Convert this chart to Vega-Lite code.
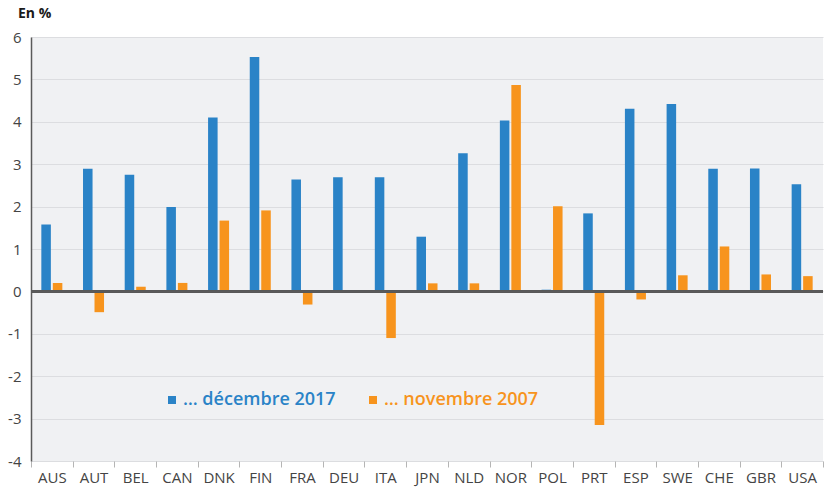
{
  "$schema": "https://vega.github.io/schema/vega-lite/v6.json",
  "width": 792,
  "height": 424,
  "autosize": {"type": "none"},
  "padding": {"left": 31, "top": 37, "right": 4, "bottom": 28},
  "background": "white",
  "title": {"text": "En %", "anchor": "start", "frame": "group", "dx": -13, "offset": 9, "font": "Open Sans", "fontSize": 14, "fontWeight": "bold", "color": "#1a1a1a"},
  "config": {
    "view": {"fill": "#f0f1f3", "stroke": null},
    "font": "Open Sans"
  },
  "data": {"values": [
    {"pays": "AUS", "serie": "… décembre 2017", "valeur": 1.58},
    {"pays": "AUS", "serie": "… novembre 2007", "valeur": 0.2},
    {"pays": "AUT", "serie": "… décembre 2017", "valeur": 2.89},
    {"pays": "AUT", "serie": "… novembre 2007", "valeur": -0.49},
    {"pays": "BEL", "serie": "… décembre 2017", "valeur": 2.75},
    {"pays": "BEL", "serie": "… novembre 2007", "valeur": 0.11},
    {"pays": "CAN", "serie": "… décembre 2017", "valeur": 1.99},
    {"pays": "CAN", "serie": "… novembre 2007", "valeur": 0.2},
    {"pays": "DNK", "serie": "… décembre 2017", "valeur": 4.1},
    {"pays": "DNK", "serie": "… novembre 2007", "valeur": 1.67},
    {"pays": "FIN", "serie": "… décembre 2017", "valeur": 5.53},
    {"pays": "FIN", "serie": "… novembre 2007", "valeur": 1.91},
    {"pays": "FRA", "serie": "… décembre 2017", "valeur": 2.64},
    {"pays": "FRA", "serie": "… novembre 2007", "valeur": -0.31},
    {"pays": "DEU", "serie": "… décembre 2017", "valeur": 2.69},
    {"pays": "ITA", "serie": "… décembre 2017", "valeur": 2.69},
    {"pays": "ITA", "serie": "… novembre 2007", "valeur": -1.1},
    {"pays": "JPN", "serie": "… décembre 2017", "valeur": 1.29},
    {"pays": "JPN", "serie": "… novembre 2007", "valeur": 0.19},
    {"pays": "NLD", "serie": "… décembre 2017", "valeur": 3.26},
    {"pays": "NLD", "serie": "… novembre 2007", "valeur": 0.19},
    {"pays": "NOR", "serie": "… décembre 2017", "valeur": 4.03},
    {"pays": "NOR", "serie": "… novembre 2007", "valeur": 4.87},
    {"pays": "POL", "serie": "… décembre 2017", "valeur": 0.04},
    {"pays": "POL", "serie": "… novembre 2007", "valeur": 2.01},
    {"pays": "PRT", "serie": "… décembre 2017", "valeur": 1.84},
    {"pays": "PRT", "serie": "… novembre 2007", "valeur": -3.15},
    {"pays": "ESP", "serie": "… décembre 2017", "valeur": 4.31},
    {"pays": "ESP", "serie": "… novembre 2007", "valeur": -0.19},
    {"pays": "SWE", "serie": "… décembre 2017", "valeur": 4.42},
    {"pays": "SWE", "serie": "… novembre 2007", "valeur": 0.38},
    {"pays": "CHE", "serie": "… décembre 2017", "valeur": 2.89},
    {"pays": "CHE", "serie": "… novembre 2007", "valeur": 1.06},
    {"pays": "GBR", "serie": "… décembre 2017", "valeur": 2.9},
    {"pays": "GBR", "serie": "… novembre 2007", "valeur": 0.4},
    {"pays": "USA", "serie": "… décembre 2017", "valeur": 2.53},
    {"pays": "USA", "serie": "… novembre 2007", "valeur": 0.36}
  ]},
  "layer": [
    {
      "mark": {"type": "bar"},
      "encoding": {
        "x": {
          "field": "pays", "type": "nominal", "sort": null,
          "scale": {"paddingInner": 0, "paddingOuter": 0},
          "axis": {"title": null, "labelAngle": 0, "domain": false, "grid": false, "ticks": true, "tickBand": "extent", "tickColor": "#b5b5b5", "tickSize": 6, "tickWidth": 1, "labelFont": "Open Sans", "labelFontSize": 15, "labelColor": "#444444", "labelPadding": 3}
        },
        "xOffset": {
          "field": "serie", "type": "nominal",
          "scale": {"paddingInner": 0.17, "paddingOuter": 0.9}
        },
        "y": {
          "field": "valeur", "type": "quantitative",
          "scale": {"domain": [-4, 6], "nice": false, "zero": false},
          "axis": {"title": null, "values": [-4, -3, -2, -1, 0, 1, 2, 3, 4, 5, 6], "labelExpr": "'' + datum.value", "grid": true, "gridColor": "#dcdde0", "gridWidth": 1, "ticks": false, "domain": true, "domainColor": "#5a5a5a", "domainWidth": 1.5, "labelFont": "Open Sans", "labelFontSize": 15, "labelColor": "#444444", "labelPadding": 10}
        },
        "color": {
          "field": "serie", "type": "nominal",
          "scale": {"domain": ["… décembre 2017", "… novembre 2007"], "range": ["#2a83c7", "#f7941d"]},
          "legend": {
            "title": null, "orient": "none", "legendX": 132, "legendY": 354, "direction": "horizontal",
            "symbolType": "square", "symbolSize": 64, "symbolStrokeWidth": 0, "symbolOpacity": 1,
            "labelFont": "Open Sans", "labelFontSize": 18, "labelFontWeight": 600, "labelOffset": 2,
            "columnPadding": 28,
            "encode": {"labels": {"update": {"fill": {"signal": "scale('color', datum.value)"}}}}
          }
        }
      }
    },
    {
      "mark": {"type": "rule", "color": "#5a5a5a", "strokeWidth": 1.5},
      "encoding": {"y": {"datum": 0}}
    }
  ]
}
